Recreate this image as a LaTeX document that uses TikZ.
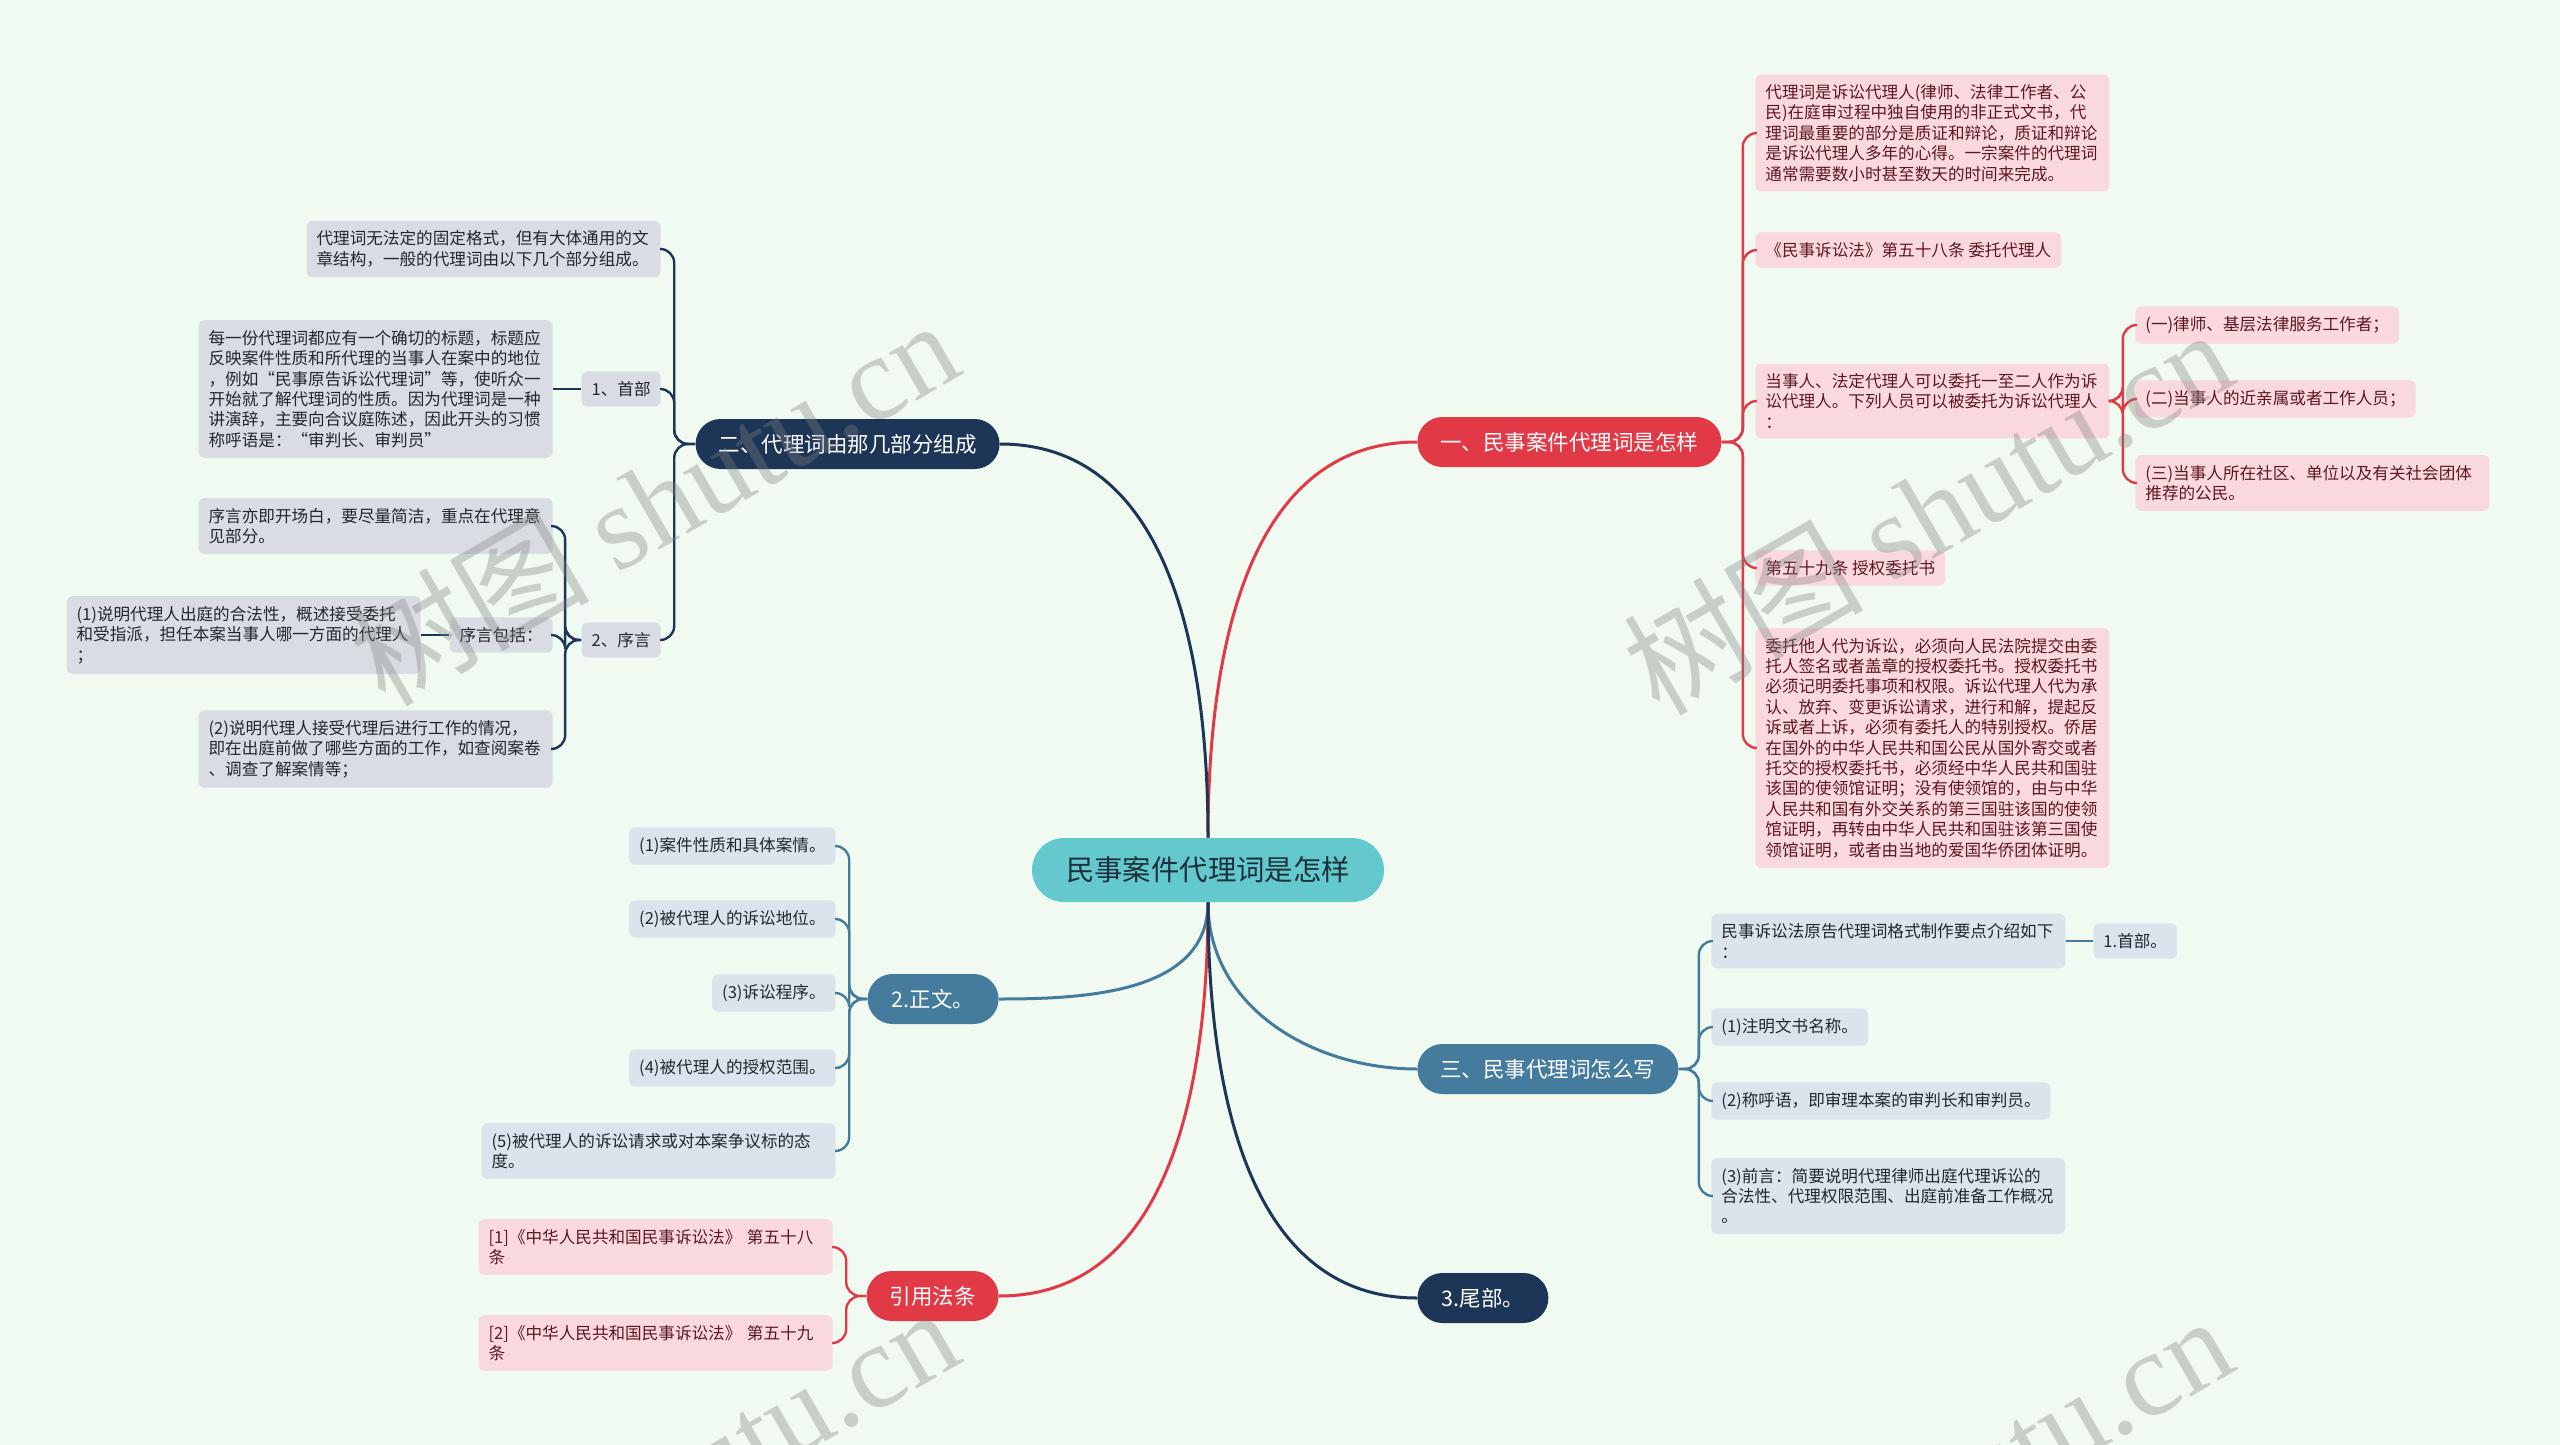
\documentclass[tikz,border=0pt]{standalone}
\usepackage{fontspec}
\setmainfont{Noto Sans CJK SC}
\newfontfamily\wmlatin{Liberation Serif}

\definecolor{bgmint}{RGB}{240,250,240}
\definecolor{rootteal}{RGB}{99,201,204}
\definecolor{roottext}{RGB}{28,48,60}
\definecolor{redmain}{RGB}{225,57,70}
\definecolor{navymain}{RGB}{29,53,87}
\definecolor{steelmain}{RGB}{69,123,157}
\definecolor{pinkleaf}{RGB}{250,217,222}
\definecolor{grayleaf}{RGB}{217,221,227}
\definecolor{blueleaf}{RGB}{219,228,236}
\definecolor{pinktext}{RGB}{92,24,34}
\definecolor{leaftext}{RGB}{35,38,45}

\begin{document}
\begin{tikzpicture}[x=0.5pt, y=-0.5pt,
  root/.style={fill=rootteal, text=roottext, rounded corners=16pt, minimum height=32pt,
    inner xsep=17pt, font=\fontsize{14.2pt}{16pt}\selectfont},
  branch/.style={text=white, rounded corners=12.5pt, minimum height=25pt,
    inner xsep=11.5pt, font=\fontsize{10.75pt}{12pt}\selectfont},
  leaf/.style={rounded corners=3pt, inner xsep=5pt, inner ysep=5pt, align=left,
    font=\fontsize{8.3pt}{10.2pt}\selectfont},
  wide/.style={text width=167pt},
  redleaf/.style={leaf, fill=pinkleaf, text=pinktext},
  navyleaf/.style={leaf, fill=grayleaf, text=leaftext},
  steelleaf/.style={leaf, fill=blueleaf, text=leaftext},
  link/.style={line width=1.5pt},
  twig/.style={line width=1.2pt, rounded corners=7pt},
  wm/.style={text=gray, opacity=0.35, font=\fontsize{60pt}{60pt}\selectfont}]

  % background
  \fill[bgmint] (0,0) rectangle (2560,1445);
  \useasboundingbox (0,0) rectangle (2560,1445);

  % root and main branches
  \node[root] (root) at (1208,870) {民事案件代理词是怎样};
  \node[branch, fill=redmain, anchor=west] (one) at (1417,442) {一、民事案件代理词是怎样};
  \node[branch, fill=steelmain, anchor=west] (three) at (1417,1069) {三、民事代理词怎么写};
  \node[branch, fill=navymain, anchor=west, minimum width=65.5pt] (tail) at (1417,1298) {3.尾部。};
  \node[branch, fill=navymain, anchor=east] (two) at (1000,444) {二、代理词由那几部分组成};
  \node[branch, fill=steelmain, anchor=east, minimum width=65.5pt] (body) at (999,999) {2.正文。};
  \node[branch, fill=redmain, anchor=east, minimum width=65.5pt] (laws) at (999,1296) {引用法条};

  \draw[link, redmain] (root.north) to[out=90, in=180] (one.west);
  \draw[link, navymain] (root.north) to[out=90, in=0] (two.east);
  \draw[link, steelmain] (root.south) to[out=-90, in=0] (body.east);
  \draw[link, redmain] (root.south) to[out=-90, in=0] (laws.east);
  \draw[link, steelmain] (root.south) to[out=-90, in=180] (three.west);
  \draw[link, navymain] (root.south) to[out=-90, in=180] (tail.west);

  % branch one
  \node[redleaf, wide, anchor=west] (one1) at (1755,133) {代理词是诉讼代理人(律师、法律工作者、公\\民)在庭审过程中独自使用的非正式文书，代\\理词最重要的部分是质证和辩论，质证和辩论\\是诉讼代理人多年的心得。一宗案件的代理词\\通常需要数小时甚至数天的时间来完成。};
  \node[redleaf, anchor=west] (one2) at (1755,250) {《民事诉讼法》第五十八条 委托代理人};
  \node[redleaf, wide, anchor=west] (one3) at (1755,401) {当事人、法定代理人可以委托一至二人作为诉\\讼代理人。下列人员可以被委托为诉讼代理人\\：};
  \node[redleaf, anchor=west] (one4) at (1755,568) {第五十九条 授权委托书};
  \node[redleaf, wide, anchor=west] (one5) at (1755,748) {委托他人代为诉讼，必须向人民法院提交由委\\托人签名或者盖章的授权委托书。授权委托书\\必须记明委托事项和权限。诉讼代理人代为承\\认、放弃、变更诉讼请求，进行和解，提起反\\诉或者上诉，必须有委托人的特别授权。侨居\\在国外的中华人民共和国公民从国外寄交或者\\托交的授权委托书，必须经中华人民共和国驻\\该国的使领馆证明；没有使领馆的，由与中华\\人民共和国有外交关系的第三国驻该国的使领\\馆证明，再转由中华人民共和国驻该第三国使\\领馆证明，或者由当地的爱国华侨团体证明。};
  \node[redleaf, anchor=west] (one3a) at (2135,325) {(一)律师、基层法律服务工作者；};
  \node[redleaf, anchor=west] (one3b) at (2135,399) {(二)当事人的近亲属或者工作人员；};
  \node[redleaf, wide, anchor=west] (one3c) at (2135,483) {(三)当事人所在社区、单位以及有关社会团体\\推荐的公民。};

  \foreach \c in {one1,one2,one3,one4,one5}
    \draw[twig, redmain] (one.east) -- ++(21,0) |- (\c.west);
  \foreach \c in {one3a,one3b,one3c}
    \draw[twig, redmain] (one3.east) -- ++(13,0) |- (\c.west);

  % branch three
  \node[steelleaf, wide, anchor=west] (three1) at (1711,941) {民事诉讼法原告代理词格式制作要点介绍如下\\：};
  \node[steelleaf, anchor=west] (three1a) at (2093,941) {1.首部。};
  \node[steelleaf, anchor=west] (three2) at (1711,1027) {(1)注明文书名称。};
  \node[steelleaf, anchor=west] (three3) at (1711,1101) {(2)称呼语，即审理本案的审判长和审判员。};
  \node[steelleaf, wide, anchor=west] (three4) at (1711,1196) {(3)前言：简要说明代理律师出庭代理诉讼的\\合法性、代理权限范围、出庭前准备工作概况\\。};

  \foreach \c in {three1,three2,three3,three4}
    \draw[twig, steelmain] (three.east) -- ++(20,0) |- (\c.west);
  \draw[twig, steelmain] (three1.east) -- (three1a.west);

  % branch two
  \node[navyleaf, wide, anchor=east] (two1) at (661,249) {代理词无法定的固定格式，但有大体通用的文\\章结构，一般的代理词由以下几个部分组成。};
  \node[navyleaf, anchor=east] (two2) at (661,389) {1、首部};
  \node[navyleaf, wide, anchor=east] (two2a) at (553,389) {每一份代理词都应有一个确切的标题，标题应\\反映案件性质和所代理的当事人在案中的地位\\，例如“民事原告诉讼代理词”等，使听众一\\开始就了解代理词的性质。因为代理词是一种\\讲演辞，主要向合议庭陈述，因此开头的习惯\\称呼语是：“审判长、审判员”};
  \node[navyleaf, anchor=east] (two3) at (661,640) {2、序言};
  \node[navyleaf, wide, anchor=east] (two3a) at (553,526) {序言亦即开场白，要尽量简洁，重点在代理意\\见部分。};
  \node[navyleaf, anchor=east] (two3b) at (553,635) {序言包括：};
  \node[navyleaf, wide, anchor=east] (two3b1) at (421,635) {(1)说明代理人出庭的合法性，概述接受委托\\和受指派，担任本案当事人哪一方面的代理人\\；};
  \node[navyleaf, wide, anchor=east] (two3c) at (553,749) {(2)说明代理人接受代理后进行工作的情况，\\即在出庭前做了哪些方面的工作，如查阅案卷\\、调查了解案情等；};

  \foreach \c in {two1,two2,two3}
    \draw[twig, navymain] (two.west) -- ++(-21,0) |- (\c.east);
  \draw[twig, navymain] (two2.west) -- (two2a.east);
  \foreach \c in {two3a,two3b,two3c}
    \draw[twig, navymain] (two3.west) -- ++(-16,0) |- (\c.east);
  \draw[twig, navymain] (two3b.west) -- (two3b1.east);

  % body
  \node[steelleaf, anchor=east] (body1) at (836,846) {(1)案件性质和具体案情。};
  \node[steelleaf, anchor=east] (body2) at (836,919) {(2)被代理人的诉讼地位。};
  \node[steelleaf, anchor=east] (body3) at (836,993) {(3)诉讼程序。};
  \node[steelleaf, anchor=east] (body4) at (836,1068) {(4)被代理人的授权范围。};
  \node[steelleaf, wide, anchor=east] (body5) at (836,1151) {(5)被代理人的诉讼请求或对本案争议标的态\\度。};

  \foreach \c in {body1,body2,body3,body4,body5}
    \draw[twig, steelmain] (body.west) -- ++(-18,0) |- (\c.east);

  % laws
  \node[redleaf, wide, anchor=east] (laws1) at (833,1247) {[1]《中华人民共和国民事诉讼法》~第五十八\\条};
  \node[redleaf, wide, anchor=east] (laws2) at (833,1343) {[2]《中华人民共和国民事诉讼法》~第五十九\\条};

  \foreach \c in {laws1,laws2}
    \draw[twig, redmain] (laws.west) -- ++(-20,0) |- (\c.east);

  % watermarks
  \node[wm, rotate=30] at (653,501) {树图 {\wmlatin shutu.cn}};
  \node[wm, rotate=30] at (1927,510) {树图 {\wmlatin shutu.cn}};
  \node[wm, rotate=30] at (653,1489) {树图 {\wmlatin shutu.cn}};
  \node[wm, rotate=30] at (1927,1497) {树图 {\wmlatin shutu.cn}};
\end{tikzpicture}
\end{document}
